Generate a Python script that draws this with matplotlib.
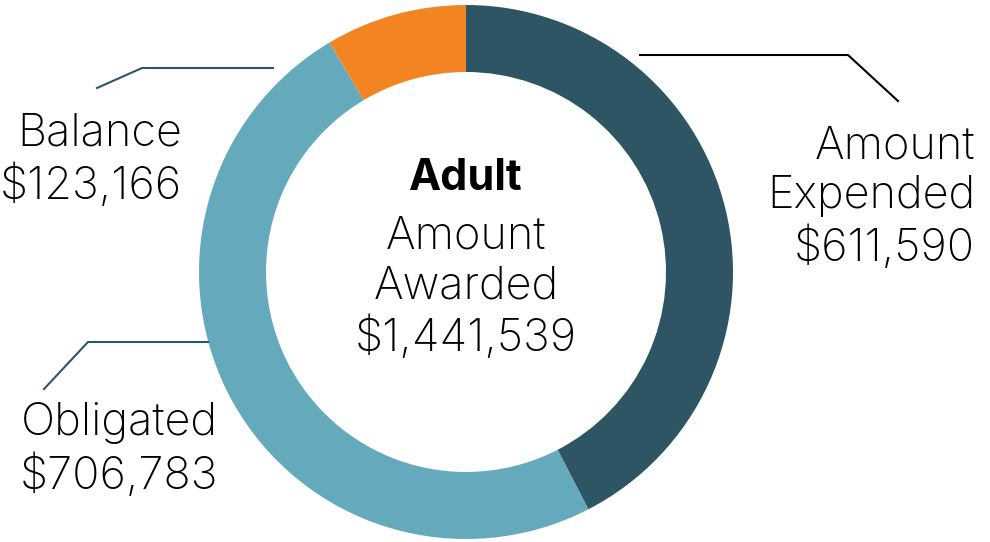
import matplotlib.pyplot as plt

# chart data
labels = ["Amount\nExpended", "Obligated", "Balance"]
values = [611590, 706783, 123166]
colors = ["#2d5563", "#65a9bd", "#f28521"]
title = "Adult"
total_label = "Amount\nAwarded"
total = sum(values)

plt.rcParams['font.family'] = ['Inter', 'DejaVu Sans']

W, H = 990, 542
fig = plt.figure(figsize=(W / 100, H / 100), dpi=100)
ax = fig.add_axes([0, 0, 1, 1])
ax.set_xlim(0, W)
ax.set_ylim(0, H)
ax.set_aspect('equal')
ax.axis('off')


def py(y):
    # pixel row -> data y
    return H - y


cx, cy = 466, py(272)
ax.pie(values, colors=colors, startangle=90, counterclock=False,
       center=(cx, cy), radius=267,
       wedgeprops=dict(width=67, edgecolor='none'))
ax.set_xlim(0, W)
ax.set_ylim(0, H)

# leader lines
ax.plot([640, 848, 898], [py(55), py(55), py(101)], color='black', lw=1.5)
ax.plot([273, 142, 97], [py(68), py(68), py(88)], color=colors[0], lw=1.5)
ax.plot([208, 88, 44], [py(342), py(342), py(389)], color=colors[0], lw=1.5)

fs = 32.5
ls = 1.24
# right label
ax.text(975, py(198), f"{labels[0]}\n${values[0]:,}", ha='right', va='center',
        fontsize=fs, fontweight='light', linespacing=ls)
# balance
ax.text(182, py(160), f"{labels[2]}\n${values[2]:,}", ha='right', va='center',
        fontsize=fs, fontweight='light', linespacing=ls)
# obligated
ax.text(218, py(450), f"{labels[1]}\n${values[1]:,}", ha='right', va='center',
        fontsize=fs, fontweight='light', linespacing=ls)

# center text
ax.text(cx, py(178), title, ha='center', va='center', fontsize=31,
        fontweight='bold')
ax.text(cx, py(288), f"{total_label}\n${total:,}", ha='center', va='center',
        fontsize=fs, fontweight='light', linespacing=ls)

fig.savefig("out.png", dpi=100)
